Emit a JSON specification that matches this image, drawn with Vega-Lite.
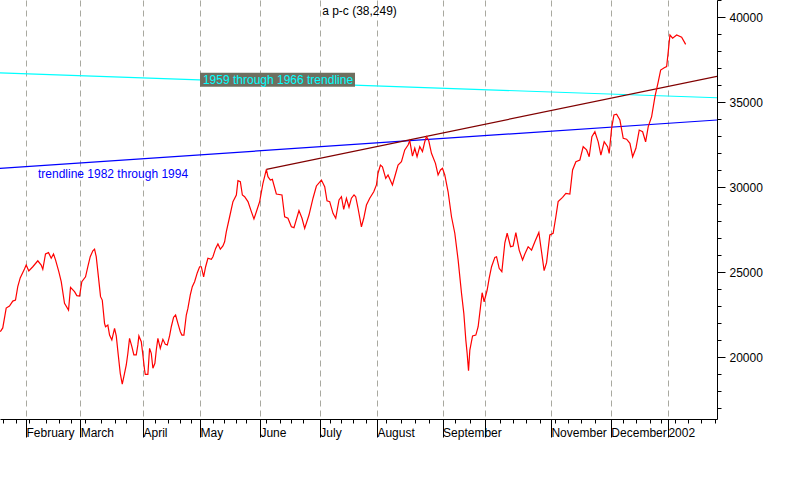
{
  "$schema": "https://vega.github.io/schema/vega-lite/v6.json",
  "width": 717,
  "height": 419,
  "autosize": {"type": "none"},
  "padding": {"left": 0, "top": 0, "right": 83, "bottom": 81},
  "background": "white",
  "config": {"view": {"stroke": null}},
  "datasets": {
    "price": [
      {"t":0,"v":21490},{"t":0.86,"v":21710},{"t":2.06,"v":22880},{"t":3.21,"v":23000},{"t":4.37,"v":23290},{"t":5.32,"v":23350},{"t":6.12,"v":24140},{"t":6.97,"v":24650},{"t":8.47,"v":25180},{"t":9.07,"v":25410},{"t":9.98,"v":25060},{"t":11.39,"v":25310},{"t":13.14,"v":25660},{"t":14.33,"v":25410},{"t":14.89,"v":25160},{"t":15.84,"v":26060},{"t":16.89,"v":26140},{"t":17.84,"v":25810},{"t":18.65,"v":26060},{"t":19.35,"v":25710},{"t":20.5,"v":25020},{"t":21.35,"v":24430},{"t":22.5,"v":23160},{"t":23.91,"v":22760},{"t":24.61,"v":24100},{"t":26.01,"v":23840},{"t":26.82,"v":23610},{"t":27.77,"v":23590},{"t":28.57,"v":24430},{"t":29.87,"v":24720},{"t":30.68,"v":25310},{"t":31.52,"v":25900},{"t":32.43,"v":26250},{"t":33.03,"v":26340},{"t":33.62,"v":25900},{"t":34.32,"v":24820},{"t":35.13,"v":23550},{"t":35.73,"v":23350},{"t":36.53,"v":21980},{"t":36.88,"v":21780},{"t":37.69,"v":21880},{"t":38.29,"v":21290},{"t":39.09,"v":21000},{"t":40.04,"v":21690},{"t":40.64,"v":21240},{"t":41.34,"v":20120},{"t":42.04,"v":19040},{"t":42.74,"v":18410},{"t":43.3,"v":18840},{"t":44.15,"v":19530},{"t":44.71,"v":20220},{"t":45.3,"v":21100},{"t":46.11,"v":20610},{"t":46.81,"v":20120},{"t":47.65,"v":20120},{"t":48.21,"v":20710},{"t":48.57,"v":21240},{"t":49.41,"v":20900},{"t":49.97,"v":20120},{"t":50.56,"v":19240},{"t":50.81,"v":18980},{"t":51.72,"v":18980},{"t":52.32,"v":20510},{"t":52.91,"v":20220},{"t":53.48,"v":19340},{"t":54.18,"v":19630},{"t":54.67,"v":20410},{"t":55.23,"v":21100},{"t":56.07,"v":20510},{"t":56.98,"v":21040},{"t":57.83,"v":20750},{"t":58.53,"v":20710},{"t":59.33,"v":21240},{"t":59.93,"v":21780},{"t":60.74,"v":22340},{"t":61.44,"v":22470},{"t":62.24,"v":21980},{"t":63.09,"v":21490},{"t":63.65,"v":21290},{"t":64.35,"v":21290},{"t":65.19,"v":22470},{"t":65.75,"v":22860},{"t":66.59,"v":23650},{"t":67.29,"v":24140},{"t":68.1,"v":24430},{"t":69.05,"v":24960},{"t":69.86,"v":25310},{"t":70.45,"v":25310},{"t":71.26,"v":24720},{"t":71.96,"v":25310},{"t":72.77,"v":25810},{"t":73.96,"v":25750},{"t":74.52,"v":25900},{"t":75.47,"v":26390},{"t":76.27,"v":26650},{"t":77.12,"v":26340},{"t":78.03,"v":26530},{"t":78.62,"v":26780},{"t":79.22,"v":27370},{"t":80.38,"v":28250},{"t":81.54,"v":29140},{"t":82.73,"v":29530},{"t":83.29,"v":30370},{"t":84.13,"v":30310},{"t":84.84,"v":29530},{"t":85.64,"v":29430},{"t":86.8,"v":29140},{"t":87.99,"v":28550},{"t":88.9,"v":28120},{"t":89.95,"v":28650},{"t":90.9,"v":29140},{"t":92.06,"v":30220},{"t":93.25,"v":31040},{"t":93.81,"v":30610},{"t":94.65,"v":30410},{"t":95.35,"v":30450},{"t":96.75,"v":29590},{"t":98.72,"v":29530},{"t":99.67,"v":28250},{"t":100.82,"v":28160},{"t":102.02,"v":27660},{"t":102.93,"v":27610},{"t":104.68,"v":28610},{"t":105.74,"v":28160},{"t":106.68,"v":27570},{"t":108.19,"v":28350},{"t":109.6,"v":29340},{"t":110.79,"v":30060},{"t":112.54,"v":30410},{"t":113.7,"v":30020},{"t":114.51,"v":29190},{"t":115.45,"v":29140},{"t":116.61,"v":28450},{"t":117.56,"v":28160},{"t":118.72,"v":29240},{"t":119.56,"v":29430},{"t":120.36,"v":28690},{"t":121.31,"v":29340},{"t":122.22,"v":28810},{"t":123.06,"v":29340},{"t":123.98,"v":29530},{"t":124.57,"v":29430},{"t":125.38,"v":28750},{"t":126.57,"v":27660},{"t":127.38,"v":28160},{"t":128.33,"v":28940},{"t":129.48,"v":29340},{"t":130.89,"v":29720},{"t":131.83,"v":30120},{"t":132.39,"v":30810},{"t":133.23,"v":31290},{"t":133.94,"v":31190},{"t":135.09,"v":30510},{"t":135.9,"v":30710},{"t":137.44,"v":30120},{"t":138.6,"v":30810},{"t":139.41,"v":31290},{"t":140.6,"v":31490},{"t":141.76,"v":32180},{"t":142.92,"v":32470},{"t":143.51,"v":32720},{"t":144.46,"v":31820},{"t":145.27,"v":32280},{"t":146.07,"v":31780},{"t":147.02,"v":32370},{"t":147.96,"v":32080},{"t":148.77,"v":32660},{"t":149.37,"v":32960},{"t":150.17,"v":32720},{"t":151.12,"v":31980},{"t":152.52,"v":31390},{"t":153.44,"v":30710},{"t":154.28,"v":31000},{"t":154.98,"v":31100},{"t":155.79,"v":30710},{"t":156.95,"v":29720},{"t":158.14,"v":28250},{"t":159.3,"v":27280},{"t":160.46,"v":25710},{"t":161.65,"v":23750},{"t":162.46,"v":22570},{"t":163.16,"v":21000},{"t":163.62,"v":20220},{"t":164.11,"v":19190},{"t":164.57,"v":20410},{"t":165.52,"v":21240},{"t":166.67,"v":21290},{"t":167.48,"v":21780},{"t":168.32,"v":22960},{"t":168.88,"v":23780},{"t":169.58,"v":23250},{"t":170.64,"v":23940},{"t":171.34,"v":24630},{"t":172.18,"v":25310},{"t":173.34,"v":25860},{"t":173.93,"v":25900},{"t":174.85,"v":25220},{"t":175.79,"v":25020},{"t":176.84,"v":26720},{"t":177.65,"v":27280},{"t":178.84,"v":26490},{"t":179.75,"v":26530},{"t":180.7,"v":27310},{"t":181.86,"v":26290},{"t":183.05,"v":25710},{"t":183.85,"v":26060},{"t":185.01,"v":26490},{"t":186.2,"v":26290},{"t":187.36,"v":26780},{"t":188.76,"v":27330},{"t":189.7,"v":26190},{"t":190.61,"v":25080},{"t":191.46,"v":25550},{"t":192.61,"v":27180},{"t":193.77,"v":27280},{"t":194.72,"v":28250},{"t":195.52,"v":29140},{"t":197.07,"v":29390},{"t":198.23,"v":29630},{"t":199.63,"v":29590},{"t":200.58,"v":31000},{"t":201.74,"v":31490},{"t":203.14,"v":31590},{"t":204.3,"v":32370},{"t":205.49,"v":32180},{"t":206.4,"v":31780},{"t":207.35,"v":32960},{"t":208.4,"v":33250},{"t":209.56,"v":32660},{"t":210.5,"v":31880},{"t":211.66,"v":32660},{"t":212.85,"v":32370},{"t":213.41,"v":31980},{"t":214.26,"v":33450},{"t":215.07,"v":34240},{"t":216.01,"v":34280},{"t":217.17,"v":33940},{"t":218.33,"v":32860},{"t":219.52,"v":32810},{"t":220.68,"v":32570},{"t":221.63,"v":31780},{"t":222.78,"v":32280},{"t":223.94,"v":33350},{"t":225.13,"v":33250},{"t":226.18,"v":32660},{"t":227.1,"v":33550},{"t":228.29,"v":34140},{"t":229.45,"v":35310},{"t":230.6,"v":36190},{"t":231.45,"v":36880},{"t":232.71,"v":37020},{"t":233.55,"v":37080},{"t":234.11,"v":37960},{"t":234.71,"v":38940},{"t":235.65,"v":38750},{"t":237.06,"v":38940},{"t":238.81,"v":38810},{"t":240.21,"v":38390}
    ],
    "trends": [
      {"name":"1959 through 1966","t":-0.11,"v":36710},{"name":"1959 through 1966","t":251.2,"v":35250},
      {"name":"1982 through 1994","t":-0.11,"v":31100},{"name":"1982 through 1994","t":251.2,"v":33940},
      {"name":"June peak","t":93.25,"v":31040},{"name":"June peak","t":251.2,"v":36510}
    ],
    "box": [{"t":69.99,"t2":124.32,"v":36723,"v2":35900}],
    "cyanText": [{"t":97.33,"v":36290,"label":"1959 through 1966 trendline"}],
    "blueText": [{"t":13.2,"v":30740,"label":"trendline 1982 through 1994"}],
    "titleText": [{"t":125.9,"v":40350,"label":"a p-c (38,249)"}]
  },
  "encoding": {
    "x": {
      "field": "t", "type": "quantitative",
      "scale": {"domain": [-0.11, 251.2], "nice": false, "zero": false},
      "axis": {
        "orient": "bottom", "title": null,
        "values": [0.9,5.5,9,10.1,16,20.6,24.8,28,29.7,35.3,40.2,44.1,50,54.2,58.8,63,66.8,70,74.6,78.4,82.6,86.1,91,93.1,98,101.9,106.1,112,115.6,119.4,123.6,128.2,132,135.2,140.4,145.4,150.3,155,159.4,164.6,170,175.1,179.7,184.3,189.2,193,194.4,199,203.5,208.4,214,218.3,222.8,227.7,231.6,234,236.5,241,245.6,250.5],
        "labelExpr": "datum.value == 9 ? 'February' : datum.value == 28 ? 'March' : datum.value == 50 ? 'April' : datum.value == 70 ? 'May' : datum.value == 91 ? 'June' : datum.value == 112 ? 'July' : datum.value == 132 ? 'August' : datum.value == 155 ? 'September' : datum.value == 193 ? 'November' : datum.value == 214 ? 'December' : datum.value == 234 ? '2002' : ''",
        "labelAlign": "left", "labelBaseline": "top", "labelPadding": -10, "labelDx": 2,
        "labelOverlap": false, "labelFlush": false,
        "labelFont": "Liberation Sans", "labelFontSize": 12, "labelColor": "#000000",
        "tickColor": "#000000", "tickWidth": 1,
        "tickSize": {"condition": {"test": "indexof([9,28,50,70,91,112,132,155,170,193,214,234], datum.value) >= 0", "value": 18}, "value": 4},
        "domainColor": "#000000", "domainWidth": 1,
        "grid": true, "gridColor": "#a9a9a0", "gridDash": [6, 4], "gridWidth": 1,
        "gridOpacity": {"condition": {"test": "indexof([9,28,50,70,91,112,132,155,170,193,214,234], datum.value) >= 0", "value": 1}, "value": 0}
      }
    },
    "y": {
      "field": "v", "type": "quantitative",
      "scale": {"domain": [16353, 41000], "nice": false, "zero": false},
      "axis": {
        "orient": "right", "title": null,
        "values": [17000,18000,19000,20000,21000,22000,23000,24000,25000,26000,27000,28000,29000,30000,31000,32000,33000,34000,35000,36000,37000,38000,39000,40000,41000],
        "labelExpr": "datum.value % 5000 == 0 ? '' + datum.value : ''",
        "labelAlign": "left", "labelBaseline": "middle", "labelPadding": 4,
        "labelOverlap": false, "labelFlush": false,
        "labelFont": "Liberation Sans", "labelFontSize": 12, "labelColor": "#000000",
        "tickColor": "#000000", "tickWidth": 1,
        "tickSize": {"condition": {"test": "datum.value % 5000 == 0", "value": 8}, "value": 4},
        "domainColor": "#000000", "domainWidth": 1,
        "grid": false
      }
    }
  },
  "layer": [
    {
      "data": {"name": "trends"},
      "mark": {"type": "line", "strokeWidth": 1.2, "clip": true},
      "encoding": {
        "detail": {"field": "name", "type": "nominal"},
        "color": {"field": "name", "type": "nominal", "legend": null,
          "scale": {"domain": ["1959 through 1966", "1982 through 1994", "June peak"], "range": ["#00ffff", "#0000ff", "#800000"]}}
      }
    },
    {
      "data": {"name": "box"},
      "mark": {"type": "rect", "color": "#6f6f60"},
      "encoding": {"x2": {"field": "t2"}, "y2": {"field": "v2"}}
    },
    {
      "data": {"name": "cyanText"},
      "mark": {"type": "text", "font": "Liberation Sans", "fontSize": 12, "color": "#00ffff", "align": "center", "baseline": "middle"},
      "encoding": {"text": {"field": "label"}}
    },
    {
      "data": {"name": "blueText"},
      "mark": {"type": "text", "font": "Liberation Sans", "fontSize": 12, "color": "#0000ff", "align": "left", "baseline": "middle"},
      "encoding": {"text": {"field": "label"}}
    },
    {
      "data": {"name": "titleText"},
      "mark": {"type": "text", "font": "Liberation Sans", "fontSize": 12, "color": "#000000", "align": "center", "baseline": "middle"},
      "encoding": {"text": {"field": "label"}}
    },
    {
      "data": {"name": "price"},
      "mark": {"type": "line", "color": "#ff0000", "strokeWidth": 1.2, "clip": true},
      "encoding": {}
    }
  ]
}
